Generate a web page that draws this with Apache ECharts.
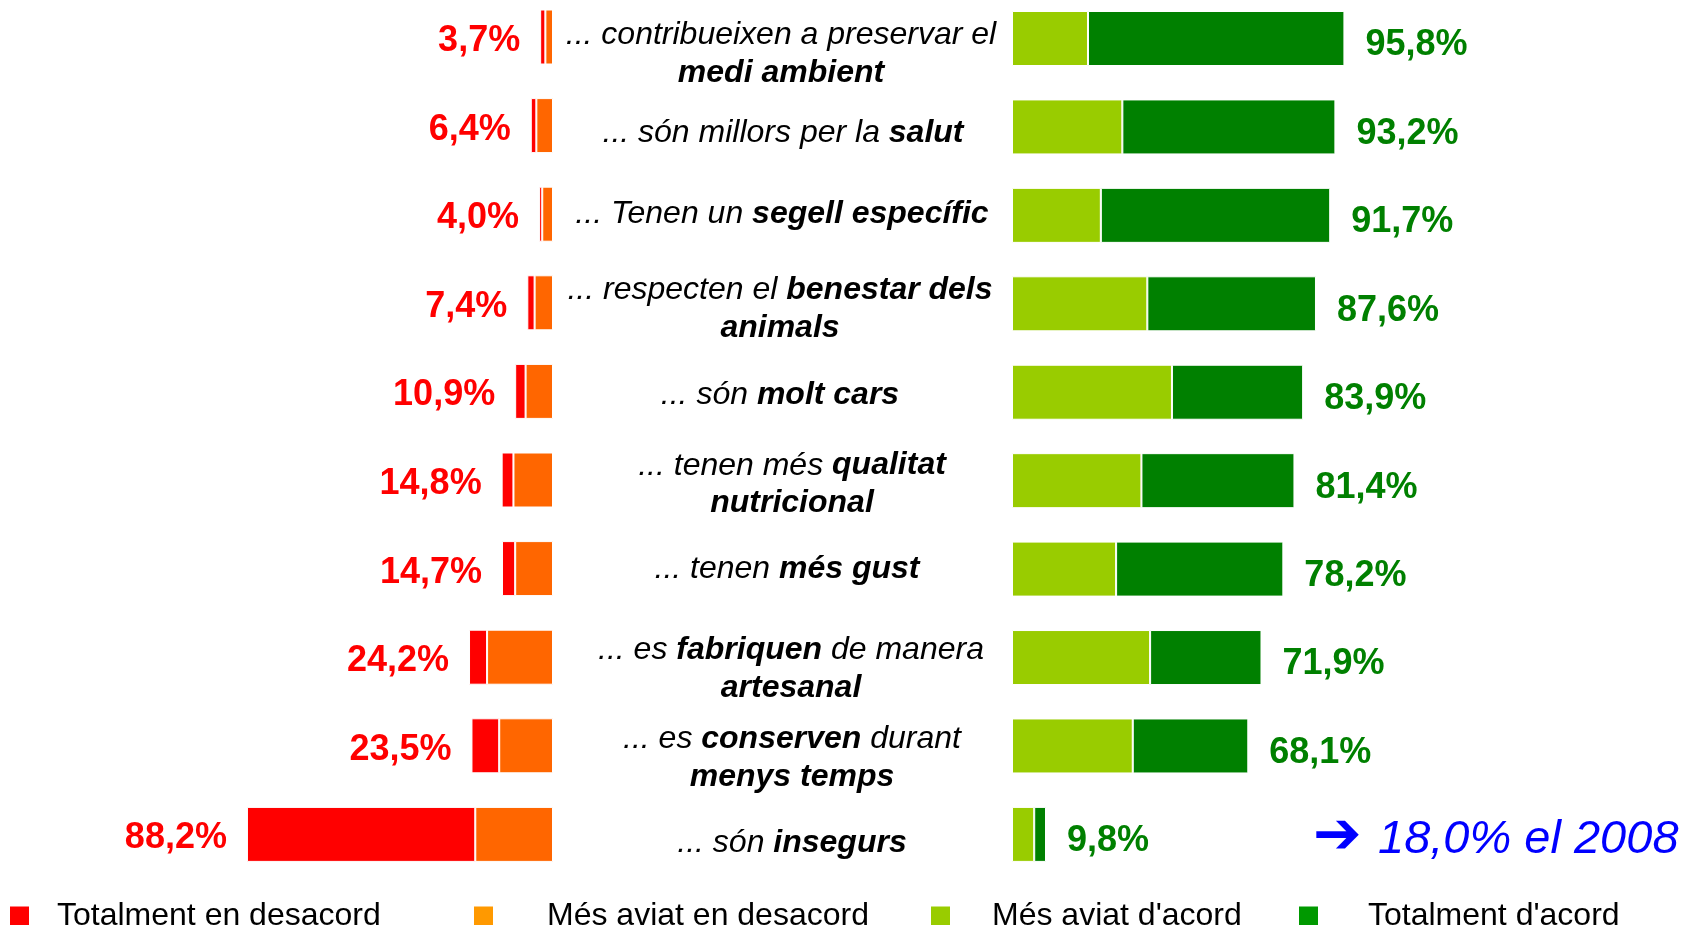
<!DOCTYPE html>
<html>
<head>
<meta charset="utf-8">
<title>Productes ecològics</title>
<script src="https://cdn.jsdelivr.net/npm/echarts@6/dist/echarts.min.js"></script>
<style>
    html, body {margin: 0; padding: 0; background: #fff;}
    #chart {width: 1685px; height: 925px;}
</style>
</head>
<body>
<div id="chart"></div>
<script>
// *...* = part en negreta
let categories = [
    '... contribueixen a preservar el\n*medi ambient*',
    '... són millors per la *salut*',
    '... Tenen un *segell específic*',
    '... respecten el *benestar dels*\n*animals*',
    '... són *molt cars*',
    '... tenen més *qualitat*\n*nutricional*',
    '... tenen *més gust*',
    '... es *fabriquen* de manera\n*artesanal*',
    '... es *conserven* durant\n*menys temps*',
    '... són *insegurs*'
];
let totalDesacord = [1.5, 1.6, 0.9, 2.1, 3.0, 3.4, 3.8, 5.2, 8.0, 65.8];
let mesDesacord = [2.2, 4.8, 3.1, 5.3, 7.9, 11.4, 10.9, 19.0, 15.5, 22.4];
let mesAcord = [21.9, 31.8, 25.6, 39.0, 46.1, 37.3, 30.0, 39.8, 34.8, 6.4];
let totalAcord = [73.9, 61.4, 66.1, 48.6, 37.8, 44.1, 48.2, 32.1, 33.3, 3.4];
let desacordTotals = [3.7, 6.4, 4.0, 7.4, 10.9, 14.8, 14.7, 24.2, 23.5, 88.2];
let acordTotals = [95.8, 93.2, 91.7, 87.6, 83.9, 81.4, 78.2, 71.9, 68.1, 9.8];
let note = '18,0% el 2008';

// petits desplaçaments dels textos de categoria (px)
let labelDx = [0, 2, 1, -1, -1, 11, 6, 10, 11, 11];
let labelDy = [16, 6, -1, 5, 3, 4, 0, 12, 12, 9];

let font = "'Liberation Sans', Arial, sans-serif";
let myChart = echarts.init(document.getElementById('chart'));

function pct(v) {
    return v.toFixed(1).replace('.', ',') + '%';
}

let rich = {
    i: {fontFamily: font, fontSize: 32, fontStyle: 'italic', color: '#000', lineHeight: 38},
    b: {fontFamily: font, fontSize: 32, fontStyle: 'italic', fontWeight: 'bold', color: '#000', lineHeight: 38}
};
categories.forEach((c, k) => {
    rich['sx' + k] = {width: Math.abs(labelDx[k]) * 2, fontSize: 1, lineHeight: 1};
    rich['sy' + k] = {fontSize: 1, lineHeight: Math.abs(labelDy[k]) * 2};
});

function richLabel(value, index) {
    let lines = value.split('\n').map(line => {
        let s = '';
        line.split('*').forEach((p, k) => {
            if (p) s += '{' + (k % 2 ? 'b' : 'i') + '|' + p + '}';
        });
        if (labelDx[index] > 0) s = '{sx' + index + '| }' + s;
        if (labelDx[index] < 0) s = s + '{sx' + index + '| }';
        return s;
    });
    if (labelDy[index] > 0) lines.unshift('{sy' + index + '| }');
    if (labelDy[index] < 0) lines.push('{sy' + index + '| }');
    return lines.join('\n');
}

function legendItem(name, color, left, pad) {
    return {
        data: [{name: name, itemStyle: {color: color}}],
        left: left,
        top: 900,
        padding: 0,
        icon: 'rect',
        itemWidth: 19,
        itemHeight: 19,
        selectedMode: false,
        itemStyle: {borderWidth: 0},
        textStyle: {fontFamily: font, fontSize: 32, color: '#000', padding: [0, 0, 0, pad]}
    };
}

let barItem = (color) => ({color: color, borderColor: '#fff', borderWidth: 1});

myChart.setOption({
    animation: false,
    backgroundColor: '#fff',
    grid: [
        {left: 206, width: 347, top: 37, height: 797.4},
        {left: 1012, width: 347, top: 37, height: 797.4}
    ],
    xAxis: [
        {gridIndex: 0, type: 'value', min: 0, max: 100, inverse: true, show: false},
        {gridIndex: 1, type: 'value', min: 0, max: 100, show: false}
    ],
    yAxis: [
        {gridIndex: 0, type: 'category', data: categories, inverse: true, boundaryGap: false, show: false},
        {
            gridIndex: 1, type: 'category', data: categories, inverse: true, boundaryGap: false,
            axisLine: {show: false},
            axisTick: {show: false},
            splitLine: {show: false},
            axisLabel: {
                interval: 0,
                align: 'center',
                margin: 231,
                formatter: richLabel,
                rich: rich
            }
        }
    ],
    legend: [
        legendItem('Totalment en desacord', '#FF0000', 10, 23),
        legendItem('Més aviat en desacord', '#FF9900', 474, 49),
        legendItem("Més aviat d'acord", '#99CC00', 931, 37),
        legendItem("Totalment d'acord", '#009900', 1299, 45)
    ],
    series: [
        {
            name: 'Més aviat en desacord', type: 'bar', stack: 'desacord',
            xAxisIndex: 0, yAxisIndex: 0, barWidth: 55, clip: false,
            itemStyle: barItem('#FF6600'),
            data: mesDesacord
        },
        {
            name: 'Totalment en desacord', type: 'bar', stack: 'desacord',
            xAxisIndex: 0, yAxisIndex: 0, barWidth: 55, clip: false,
            itemStyle: barItem('#FF0000'),
            label: {
                show: true, position: 'left', distance: 20, offset: [0, 4],
                fontFamily: font, fontSize: 36, fontWeight: 'bold', color: '#FF0000',
                formatter: p => pct(desacordTotals[p.dataIndex])
            },
            data: totalDesacord
        },
        {
            name: "Més aviat d'acord", type: 'bar', stack: 'acord',
            xAxisIndex: 1, yAxisIndex: 1, barWidth: 55, clip: false,
            itemStyle: barItem('#99CC00'),
            data: mesAcord
        },
        {
            name: "Totalment d'acord", type: 'bar', stack: 'acord',
            xAxisIndex: 1, yAxisIndex: 1, barWidth: 55, clip: false,
            itemStyle: barItem('#008000'),
            label: {
                show: true, position: 'right', distance: 21, offset: [0, 7],
                fontFamily: font, fontSize: 36, fontWeight: 'bold', color: '#008000',
                formatter: p => pct(acordTotals[p.dataIndex])
            },
            data: totalAcord
        }
    ],
    graphic: [
        {
            type: 'text', x: 1313, y: 838,
            style: {text: '➔', font: "bold 58px 'DejaVu Sans'", fill: '#0000FF', verticalAlign: 'middle'}
        },
        {
            type: 'text', x: 1378, y: 840,
            style: {text: note, font: "italic 47px 'Liberation Sans'", fill: '#0000FF', verticalAlign: 'middle'}
        }
    ]
});
</script>
</body>
</html>
